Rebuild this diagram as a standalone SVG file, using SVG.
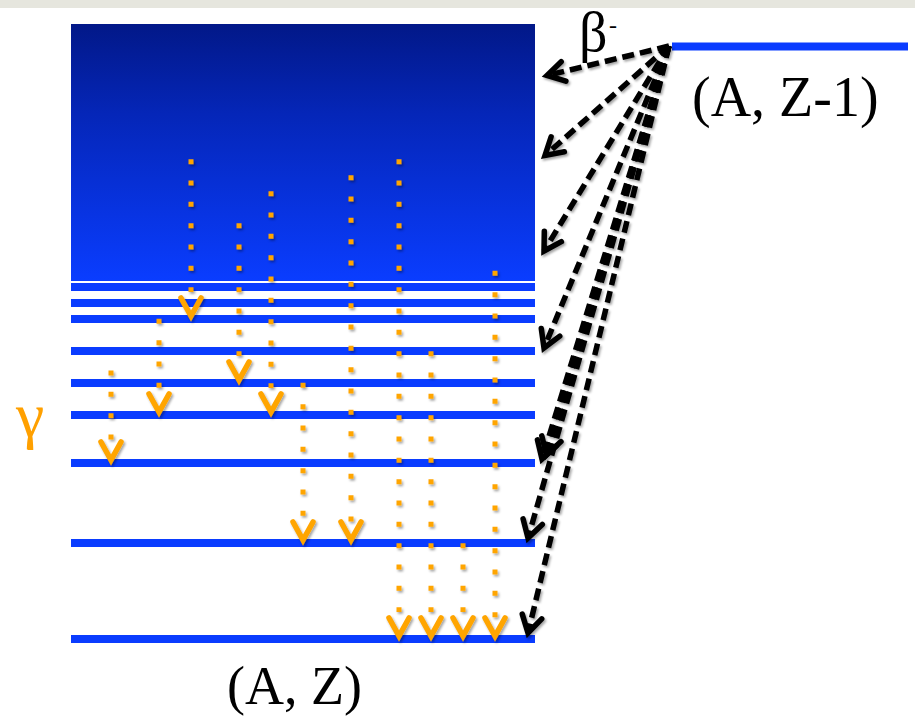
<svg xmlns="http://www.w3.org/2000/svg" xmlns:xlink="http://www.w3.org/1999/xlink" width="915" height="717" viewBox="0 0 915 717">
<style>
.lvl{fill:#0a3cff}
.dot{stroke:#ffa500;stroke-width:5;stroke-dasharray:5 16.333;fill:none}
.vh{stroke:#ffa500;stroke-width:5.5;fill:none;stroke-linecap:round;stroke-linejoin:miter}
.beta{stroke:#000;stroke-width:5.5;stroke-dasharray:12 6;fill:none;marker-end:url(#ah)}
.lbl{font-family:"Liberation Serif","Times New Roman",serif;fill:#000}
</style>
<defs>
<linearGradient id="g" x1="0" y1="0" x2="0" y2="1">
<stop offset="0" stop-color="#021888"/>
<stop offset="0.35" stop-color="#0526b8"/>
<stop offset="1" stop-color="#0a3dff"/>
</linearGradient>
<filter id="sh" x="-20%" y="-20%" width="140%" height="140%">
<feDropShadow dx="1.5" dy="2" stdDeviation="1.3" flood-color="#000" flood-opacity="0.35"/>
</filter>
<marker id="ah" markerUnits="userSpaceOnUse" markerWidth="40" markerHeight="40" refX="0" refY="0" viewBox="-25 -20 40 40" orient="auto" overflow="visible">
<path d="M-17,-10 L0,0 L-17,10" fill="none" stroke="#000" stroke-width="5.5" stroke-linecap="round" stroke-linejoin="miter"/>
</marker>
<path id="v" class="vh" d="M-10,-18 L0,0 L10,-18"/>
</defs>
<rect x="0" y="0" width="915" height="8" fill="#e6e6de"/>
<g id="continuum"><rect x="71" y="24" width="464" height="257" fill="url(#g)"/></g>
<g id="levels-AZ">
<rect class="lvl" x="71" y="283" width="464" height="8"/>
<rect class="lvl" x="71" y="299" width="464" height="8"/>
<rect class="lvl" x="71" y="315" width="464" height="8"/>
<rect class="lvl" x="71" y="347" width="464" height="8"/>
<rect class="lvl" x="71" y="379" width="464" height="8"/>
<rect class="lvl" x="71" y="411" width="464" height="8"/>
<rect class="lvl" x="71" y="459" width="464" height="8"/>
<rect class="lvl" x="71" y="539" width="464" height="8"/>
<rect class="lvl" x="71" y="635" width="464" height="8"/>
</g>
<g id="level-AZ1"><rect class="lvl" x="672" y="42.5" width="236" height="8"/></g>
<g id="label-AZ1"><text class="lbl" x="692" y="116" font-size="56">(A, Z-1)</text></g>
<g id="label-AZ"><text class="lbl" x="227" y="704" font-size="54">(A, Z)</text></g>
<g id="label-beta"><text class="lbl" x="579" y="51" font-size="56">β</text><text class="lbl" x="609" y="33" font-size="24">-</text></g>
<g id="label-gamma"><text x="16" y="436" font-size="64" font-family="Liberation Serif, serif" fill="#ffa000">γ</text></g>
<g id="connectors">
<g id="gamma-transitions" filter="url(#sh)">
<line class="dot" x1="111" y1="370.5" x2="111" y2="440"/><use xlink:href="#v" href="#v" x="111" y="460"/>
<line class="dot" x1="159" y1="318.8" x2="159" y2="388"/><use xlink:href="#v" href="#v" x="159" y="412"/>
<line class="dot" x1="191" y1="159.2" x2="191" y2="292"/><use xlink:href="#v" href="#v" x="191" y="316"/>
<line class="dot" x1="239" y1="223.2" x2="239" y2="356"/><use xlink:href="#v" href="#v" x="239" y="380"/>
<line class="dot" x1="271" y1="191.2" x2="271" y2="388"/><use xlink:href="#v" href="#v" x="271" y="412"/>
<line class="dot" x1="303" y1="382.8" x2="303" y2="516"/><use xlink:href="#v" href="#v" x="303" y="540"/>
<line class="dot" x1="351" y1="175.2" x2="351" y2="522"/><use xlink:href="#v" href="#v" x="351" y="540"/>
<line class="dot" x1="399" y1="159.2" x2="399" y2="612"/><use xlink:href="#v" href="#v" x="399" y="636"/>
<line class="dot" x1="431" y1="351.2" x2="431" y2="612"/><use xlink:href="#v" href="#v" x="431" y="636"/>
<line class="dot" x1="463" y1="543.2" x2="463" y2="612"/><use xlink:href="#v" href="#v" x="463" y="636"/>
<line class="dot" x1="495" y1="270.8" x2="495" y2="618"/><use xlink:href="#v" href="#v" x="495" y="636"/>
</g>
<g id="beta-transitions" filter="url(#sh)">
<line class="beta" x1="669" y1="46" x2="547" y2="75.5"/>
<line class="beta" x1="669" y1="46" x2="545" y2="155.5"/>
<line class="beta" x1="669" y1="46" x2="544" y2="251"/>
<line class="beta" x1="669" y1="46" x2="544" y2="348"/>
<line class="beta" x1="669" y1="46" x2="546.5" y2="455"/>
<line class="beta" x1="669" y1="46" x2="542" y2="459"/>
<line class="beta" x1="669" y1="46" x2="528" y2="538"/>
<line class="beta" x1="669" y1="46" x2="528" y2="633"/>
</g>
</g>
</svg>
